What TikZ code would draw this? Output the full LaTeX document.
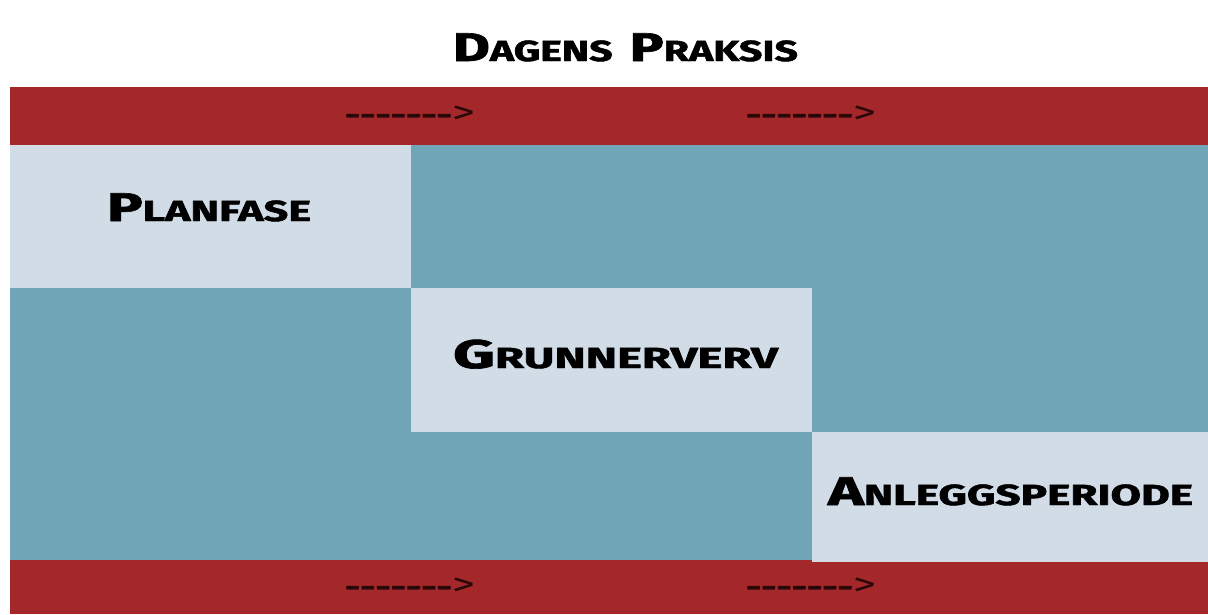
\documentclass[tikz,border=0pt]{standalone}
\usepackage{fontspec}
\usepackage{graphicx}
\newfontfamily\hv{Fira Sans}[BoldFeatures={FakeBold=1.6}]
\definecolor{bandred}{RGB}{164,39,42}
\definecolor{teal}{RGB}{112,166,183}
\definecolor{phase}{RGB}{209,220,231}
\definecolor{arrowink}{RGB}{40,8,8}
% fake small caps: full-size initial, smaller capitals after it
\newcommand{\smallcapword}[2]{{\fontsize{40}{40}\selectfont #1}{\fontsize{29}{29}\selectfont #2}}
% stretch a heavy label to a given width, keeping its height
\newcommand{\widelabel}[2]{\resizebox{#1}{\height}{\hv\bfseries #2}}
% dashed flow mark: heavy dashes ending in a light chevron
\newcommand{\flow}{\resizebox{130pt}{\height}{\hv{\bfseries\fontsize{26}{26}\selectfont -------}{\fontsize{32}{32}\selectfont\textgreater}}}
\tikzset{
  band/.style={fill=bandred, draw=none, inner sep=0, outer sep=0, anchor=north west},
  field/.style={fill=teal, draw=none, inner sep=0, outer sep=0, anchor=north west},
  phasebox/.style={fill=phase, draw=none, inner sep=0, outer sep=0, anchor=north west},
  label/.style={inner sep=0, anchor=base},
  flowmark/.style={inner sep=0, text=arrowink, anchor=center}
}
\begin{document}
\begin{tikzpicture}[x=1pt,y=-1pt]
\useasboundingbox[fill=white] (0,0) rectangle (1208,614);
% bands and background field
\node[band, minimum width=1198pt, minimum height=58pt] (topband) at (10,87) {};
\node[field, minimum width=1198pt, minimum height=415pt] (field) at (10,145) {};
\node[band, minimum width=1198pt, minimum height=54pt] (botband) at (10,560) {};
% phase boxes, stepping down to the right
\node[phasebox, minimum width=401pt, minimum height=143pt] (plan) at (10,145) {};
\node[phasebox, minimum width=401pt, minimum height=144pt] (grunn) at (411,288) {};
\node[phasebox, minimum width=396pt, minimum height=130pt] (anlegg) at (812,432) {};
% texts
\node[label] (title) at (625.5,61) {\widelabel{345pt}{\smallcapword{D}{AGENS}\hspace{12pt}\smallcapword{P}{RAKSIS}}};
\node[label] (tplan) at (209,221) {\widelabel{204pt}{\smallcapword{P}{LANFASE}}};
\node[label] (tgrunn) at (615.5,368) {\widelabel{325pt}{\smallcapword{G}{RUNNERVERV}}};
\node[label] (tanlegg) at (1010.5,505) {\widelabel{365pt}{\smallcapword{A}{NLEGGSPERIODE}}};
% flow marks in the bands
\node[flowmark] (f1) at (410,115) {\flow};
\node[flowmark] (f2) at (811,115) {\flow};
\node[flowmark] (f3) at (410,587) {\flow};
\node[flowmark] (f4) at (811,587) {\flow};
\end{tikzpicture}
\end{document}
